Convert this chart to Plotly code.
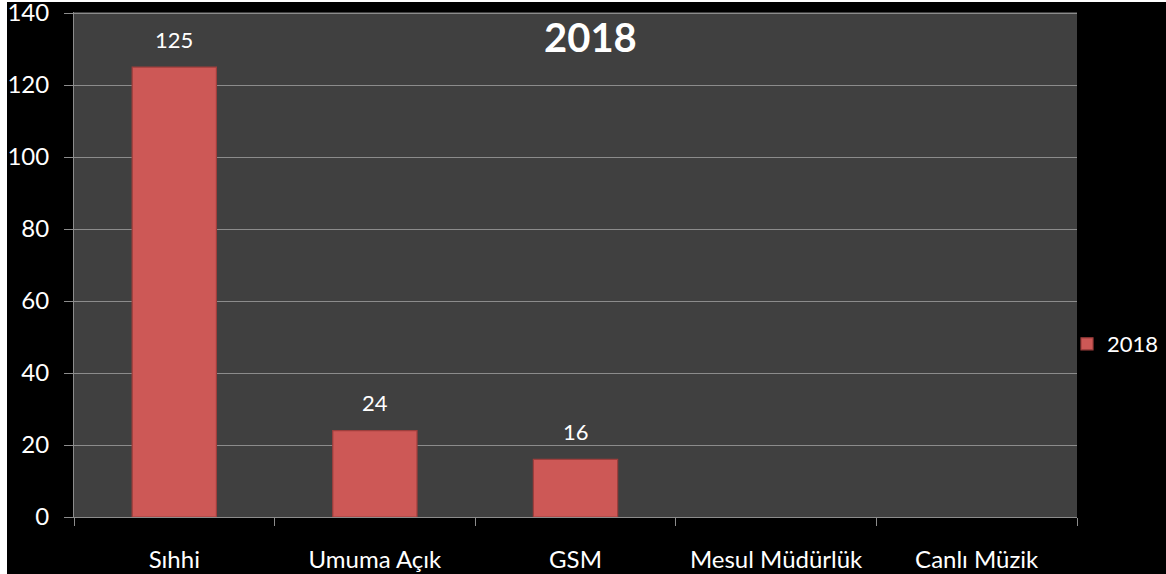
import plotly.graph_objects as go

categories = ["Sıhhi", "Umuma Açık", "GSM", "Mesul Müdürlük", "Canlı Müzik"]
values_2018 = [125, 24, 16, None, None]
series_name = "2018"
y_ticks = [0, 20, 40, 60, 80, 100, 120, 140]

W, H = 1166, 574
ML, MR, MT, MB = 74, 89, 12, 57
PW = W - ML - MR
PH = H - MT - MB

FONT = "Lato"
BAR = "#CD5856"

fig = go.Figure()
fig.add_trace(go.Bar(
    x=categories, y=values_2018, name=series_name,
    marker=dict(color=BAR, line=dict(color="#9E3E3C", width=1.2)),
    showlegend=True,
))

# data labels
for c, v in zip(categories, values_2018):
    if v is None:
        continue
    fig.add_annotation(x=c, y=v, text=str(v), showarrow=False, yshift=28,
                       yanchor="middle", font=dict(family=FONT, size=22, color="white"))

# title
fig.add_annotation(xref="paper", yref="paper", x=(590 - ML) / PW, y=(PH + MT - 37) / PH,
                   text="<b>2018</b>", showarrow=False, xanchor="center", yanchor="middle",
                   font=dict(family=FONT, size=40, color="white"))

# white page edges (left and top strips)
fig.add_shape(type="rect", xref="paper", yref="paper", layer="below",
              x0=-ML / PW, x1=(7 - ML) / PW, y0=-MB / PH, y1=(PH + MT) / PH,
              fillcolor="white", line=dict(width=0))
fig.add_shape(type="rect", xref="paper", yref="paper", layer="below",
              x0=-ML / PW, x1=(W - ML) / PW, y0=(PH + MT - 2) / PH, y1=(PH + MT) / PH,
              fillcolor="white", line=dict(width=0))

fig.update_layout(
    width=W, height=H,
    margin=dict(l=ML, r=MR, t=MT, b=MB, pad=0, autoexpand=False),
    paper_bgcolor="black", plot_bgcolor="#404040",
    bargap=0.58,
    font=dict(family=FONT, color="white"),
    legend=dict(xref="container", yref="container",
                x=1067 / W, xanchor="left", y=(H - 344) / H, yanchor="middle",
                font=dict(family=FONT, size=22, color="white"),
                bgcolor="rgba(0,0,0,0)", itemwidth=30, tracegroupgap=0),
    xaxis=dict(type="category", categoryorder="array", categoryarray=categories,
               range=[-0.5, len(categories) - 0.5],
               showgrid=False, showline=True, linecolor="#8C8C8C", linewidth=1,
               ticks="outside", tickson="boundaries", ticklen=8, tickcolor="#8C8C8C",
               tickfont=dict(family=FONT, size=24, color="white"),
               ticklabelstandoff=21),
    yaxis=dict(range=[0, 140.3], tickvals=y_ticks, showgrid=True, gridcolor="#8C8C8C",
               gridwidth=1, showline=True, linecolor="#8C8C8C", linewidth=1,
               ticks="outside", ticklen=9, tickcolor="#8C8C8C", zeroline=False,
               tickfont=dict(family=FONT, size=24, color="white"),
               ticklabelstandoff=10, ticklabeloverflow="allow"),
)

fig.write_html("out.html", config={"displayModeBar": False},
               post_script="document.body.style.margin='0';document.body.style.overflow='hidden';")
